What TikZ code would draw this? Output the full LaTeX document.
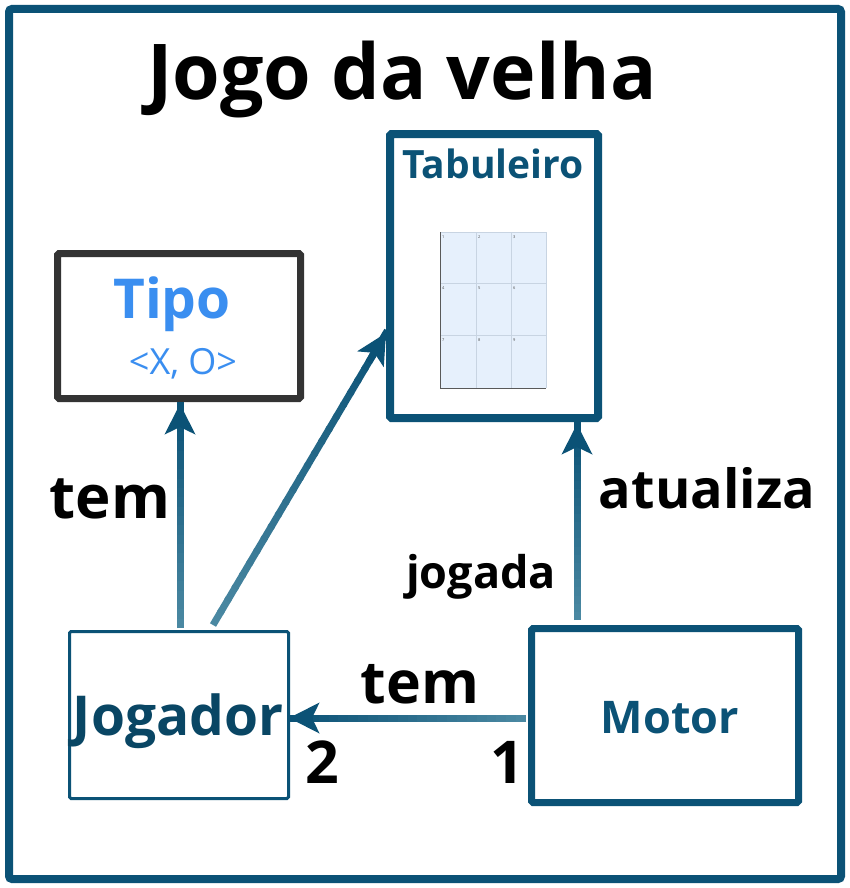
\documentclass[tikz,border=0pt]{standalone}
\usepackage{fontspec}
\setmainfont{Open Sans}
\usetikzlibrary{arrows.meta,calc}
\definecolor{frame}{HTML}{0B5276}
\definecolor{adark}{HTML}{0B5276}
\definecolor{alight}{HTML}{4A88A2}
\definecolor{tipoblue}{HTML}{3A8EF0}
\definecolor{tipoframe}{HTML}{333333}
\definecolor{cellfill}{HTML}{E6F0FC}
\definecolor{cellline}{HTML}{C8D4E2}
\newcommand\gradconn[2]{%
  \foreach \i in {0,...,23}{%
    \pgfmathsetmacro\pa{\i/24}%
    \pgfmathsetmacro\pb{(\i+1.2)/24}%
    \pgfmathsetmacro\pc{100*\i/23}%
    \draw[line width=7pt,color=adark!\pc!alight] ($(#1)!\pa!(#2)$) -- ($(#1)!\pb!(#2)$);}%
  \draw[line width=7pt,color=adark,-{Stealth[length=30pt,width=30pt,inset=7pt]}] ($(#1)!0.9!(#2)$) -- (#2);}
\tikzset{
  box/.style={draw=frame,rectangle,inner sep=0pt,rounded corners=1.5pt},
  lbl/.style={font=\bfseries,text=black,inner sep=0pt,anchor=base},
}
\begin{document}
\begin{tikzpicture}[x=1pt,y=-1pt]
\useasboundingbox (0,0) rectangle (850,888);
\fill[white] (0,0) rectangle (850,888);
\draw[frame,line width=8pt,rounded corners=3pt] (9,9) rectangle (841,879);
\node[lbl,font=\fontsize{77}{80}\selectfont\bfseries] (title) at (402,100) {Jogo da velha};
% boxes
\node[box,line width=8pt,minimum width=208pt,minimum height=284pt] (tab) at (494,276) {};
\node[font=\fontsize{39}{42}\selectfont\bfseries,text=frame,inner sep=0pt,anchor=base] (tabt) at (493,178) {Tabuleiro};
\node[box,draw=tipoframe,line width=7pt,minimum width=243pt,minimum height=145pt] (tipo) at (179,326) {};
\node[font=\fontsize{55}{58}\selectfont\bfseries,text=tipoblue,inner sep=0pt,anchor=base] (tipot) at (172,318) {Tipo};
\node[font=\fontsize{36}{40}\selectfont,text=tipoblue,inner sep=0pt,anchor=base] (tipox) at (183,374) {<X, O>};
\node[box,line width=3pt,minimum width=219pt,minimum height=167pt] (jog) at (179,715) {};
\node[font=\fontsize{55}{58}\selectfont\bfseries,text=frame!85!black,inner sep=0pt,anchor=base] (jogt) at (178,735) {Jogador};
\node[box,line width=7pt,minimum width=267pt,minimum height=174pt] (mot) at (665,715.5) {};
\node[font=\fontsize{45}{48}\selectfont\bfseries,text=frame,inner sep=0pt,anchor=base] (mott) at (670,733) {Motor};
% grid image
\fill[cellfill] (440,232) rectangle (546,388);
\foreach \x in {476,511,546}{\draw[cellline,line width=0.8pt] (\x,232) -- (\x,388);}
\foreach \y in {232,283,335}{\draw[cellline,line width=0.8pt] (440,\y) -- (546,\y);}
\draw[gray!70!black,line width=1pt] (440,232) -- (440,388) -- (546,388);
\foreach \n/\x/\y in {1/442/235,2/478/235,3/513/235,4/442/286,5/478/286,6/513/286,7/442/338,8/478/338,9/513/338}{
  \node[font=\fontsize{4}{4}\selectfont,text=black!70,inner sep=0pt,anchor=north west] at (\x,\y) {\n};}
% connectors
\coordinate (j1) at (180,628);
\coordinate (t1) at (180,404);
\coordinate (j2) at (213,625);
\coordinate (b1) at (386,333);
\coordinate (m1) at (577,620);
\coordinate (b2) at (577,424);
\coordinate (m2) at (526,718);
\coordinate (j3) at (289,718);
\gradconn{j1}{t1}
\gradconn{j2}{b1}
\gradconn{m1}{b2}
\gradconn{m2}{j3}
% labels
\node[lbl,font=\fontsize{60}{62}\selectfont\bfseries] (l1) at (110,518) {tem};
\node[lbl,font=\fontsize{54}{56}\selectfont\bfseries] (l2) at (707,508) {atualiza};
\node[lbl,font=\fontsize{45}{48}\selectfont\bfseries] (l3) at (481,588) {jogada};
\node[lbl,font=\fontsize{59}{62}\selectfont\bfseries] (l4) at (420,703) {tem};
\node[lbl,font=\fontsize{59}{62}\selectfont\bfseries] (l5) at (322,783) {2};
\node[lbl,font=\fontsize{59}{62}\selectfont\bfseries] (l6) at (507,783) {1};
\end{tikzpicture}
\end{document}
